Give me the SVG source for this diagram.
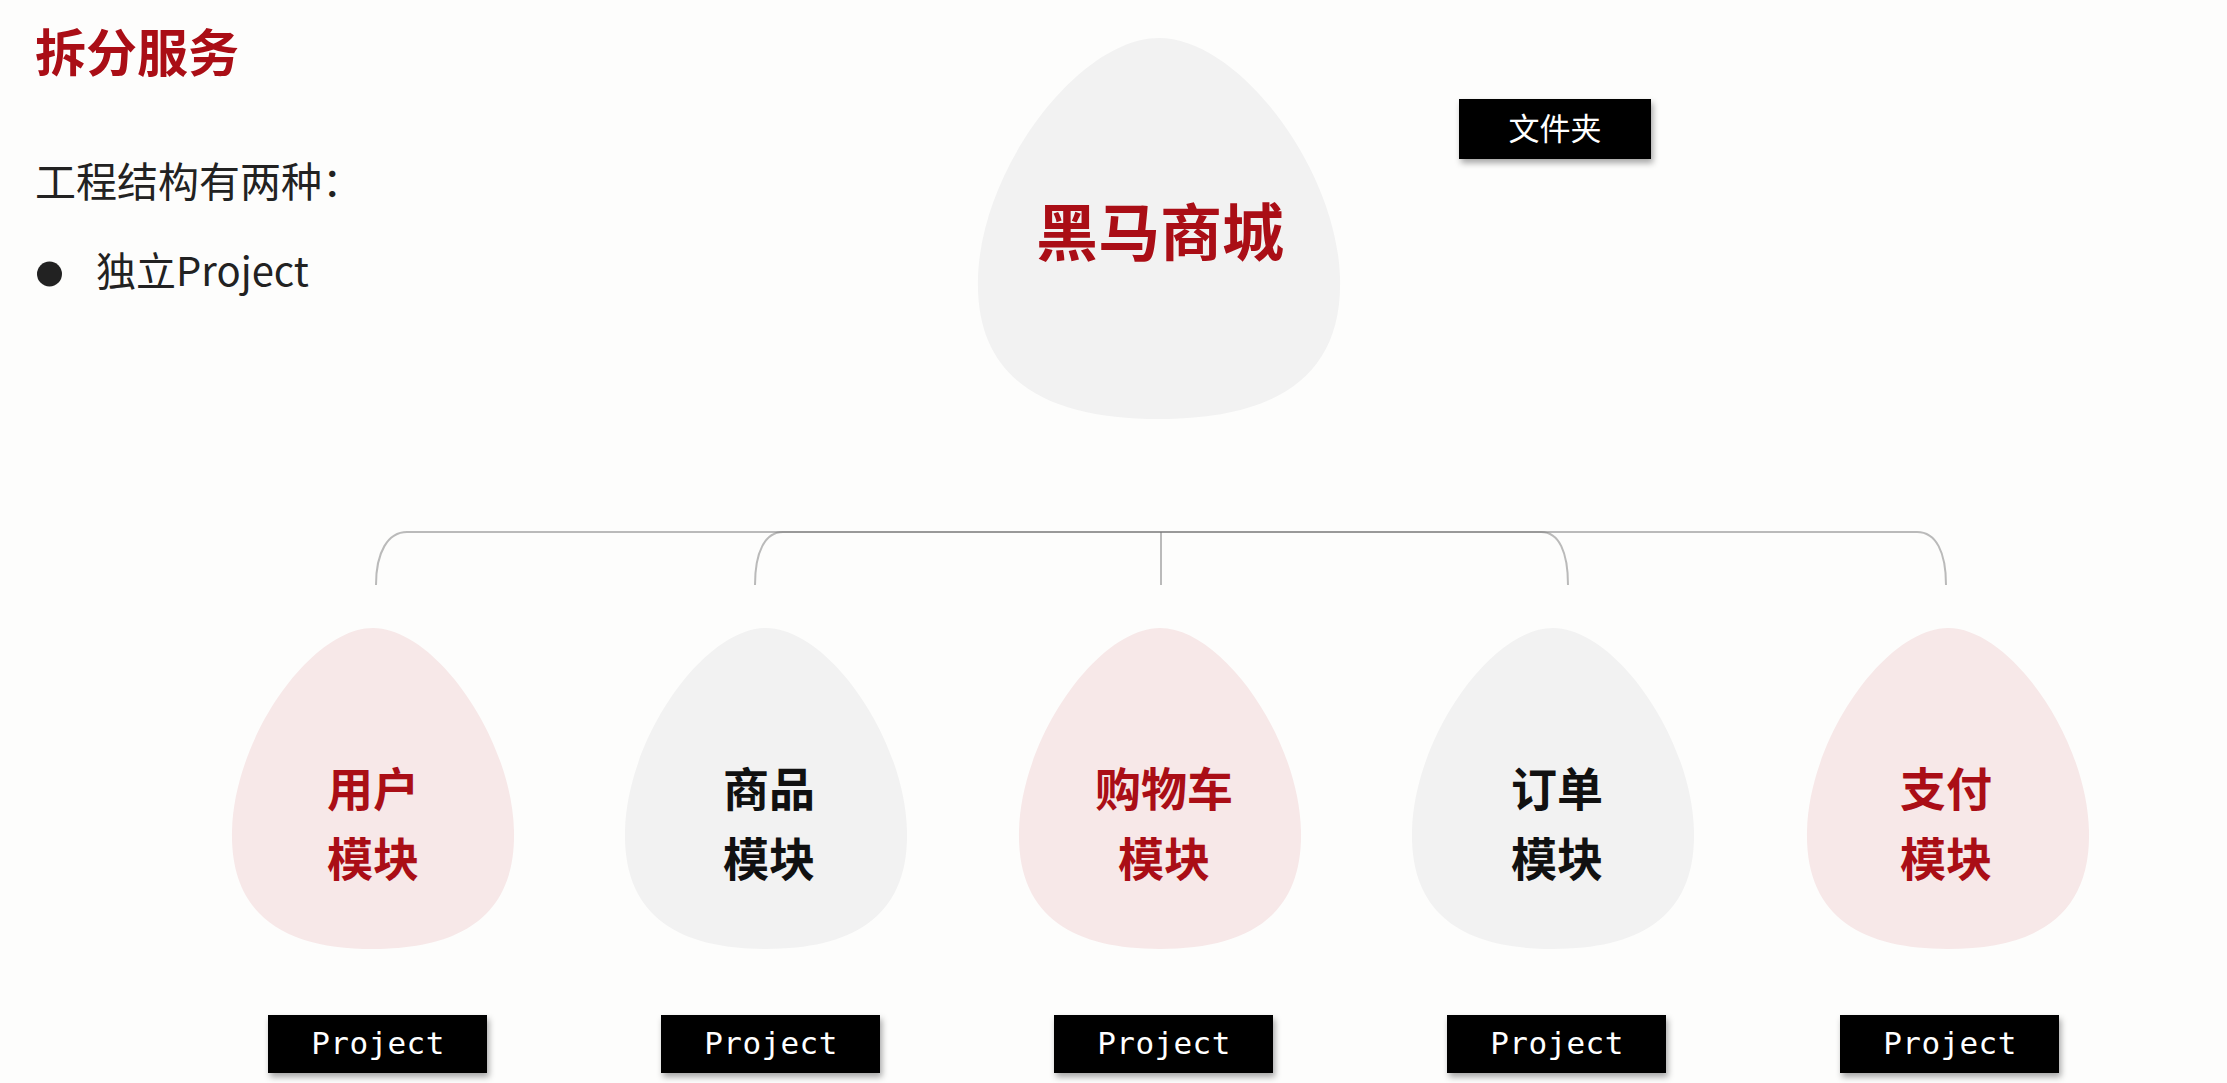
<svg xmlns="http://www.w3.org/2000/svg" xmlns:xlink="http://www.w3.org/1999/xlink" width="2227" height="1083" viewBox="0 0 2227 1083">
<style>
.cjk{font-family:"Noto Sans CJK SC","Noto Sans",sans-serif}
.red{fill:#aa0e16}
.blk{fill:#111}
.lbl{font-family:"Noto Sans CJK SC",sans-serif;font-weight:700;font-size:46px;text-anchor:middle}
.big{font-size:62px}
.grey{fill:#f2f2f2}
.pink{fill:#f7e8e8}
.tag{fill:#000;filter:url(#sh)}
.tagtxt{font-family:"DejaVu Sans Mono","Liberation Mono",monospace;font-size:31px;letter-spacing:0.4px;fill:#fff;text-anchor:middle}
.conn{fill:none;stroke:#777;stroke-opacity:0.5;stroke-width:2}
</style>
<defs>
<path id="egg" d="M0,0 C62,0 139,110 141,203 C143,290 85,321 0,321 C-85,321 -143,290 -141,203 C-139,110 -62,0 0,0 Z"/>
<filter id="sh" x="-10%" y="-20%" width="120%" height="150%">
<feDropShadow dx="2" dy="4" stdDeviation="3" flood-color="#000" flood-opacity="0.35"/>
</filter>
</defs>
<rect width="2227" height="1083" fill="#fdfdfc"/>

<g id="heading">
<text class="cjk red" x="35" y="72" font-size="51" font-weight="700" fill="#a3121a">拆分服务</text>
<text class="cjk" x="35" y="197" font-size="41" fill="#222">工程结构有两种：</text>
<circle cx="49.5" cy="274" r="12.5" fill="#222"/>
<text class="cjk" x="96" y="286" font-size="40" fill="#222">独立Project</text>
</g>

<g id="connectors">
<path class="conn" d="M1161 532 H407 C388 532 376 552 376 585"/>
<path class="conn" d="M1161 532 H783 C765 532 755 552 755 585"/>
<path class="conn" d="M1161 532 V585"/>
<path class="conn" d="M1161 532 H1541 C1559 532 1568 552 1568 585"/>
<path class="conn" d="M1161 532 H1917 C1936 532 1946 552 1946 585"/>
</g>

<g id="root">
<use xlink:href="#egg" class="grey" transform="translate(1159,38) scale(1.284,1.187)"/>
<text class="lbl big red" x="1160" y="256">黑马商城</text>
</g>

<g id="folder-tag">
<rect class="tag" x="1459" y="99" width="192" height="60"/>
<text x="1555" y="140" font-family="Noto Sans CJK SC,sans-serif" font-size="31" fill="#fff" text-anchor="middle">文件夹</text>
</g>

<g id="user">
<use xlink:href="#egg" class="pink" transform="translate(373,628)"/>
<text class="lbl red" x="373" y="806">用户</text>
<text class="lbl red" x="373" y="876">模块</text>
</g>
<g id="product">
<use xlink:href="#egg" class="grey" transform="translate(766,628)"/>
<text class="lbl blk" x="769" y="806">商品</text>
<text class="lbl blk" x="769" y="876">模块</text>
</g>
<g id="cart">
<use xlink:href="#egg" class="pink" transform="translate(1160,628)"/>
<text class="lbl red" x="1164" y="806">购物车</text>
<text class="lbl red" x="1164" y="876">模块</text>
</g>
<g id="order">
<use xlink:href="#egg" class="grey" transform="translate(1553,628)"/>
<text class="lbl blk" x="1557" y="806">订单</text>
<text class="lbl blk" x="1557" y="876">模块</text>
</g>
<g id="pay">
<use xlink:href="#egg" class="pink" transform="translate(1948,628)"/>
<text class="lbl red" x="1946" y="806">支付</text>
<text class="lbl red" x="1946" y="876">模块</text>
</g>

<g id="project-user">
<rect class="tag" x="268" y="1015" width="219" height="58"/>
<text class="tagtxt" x="378" y="1054">Project</text>
</g>
<g id="project-product">
<rect class="tag" x="661" y="1015" width="219" height="58"/>
<text class="tagtxt" x="771" y="1054">Project</text>
</g>
<g id="project-cart">
<rect class="tag" x="1054" y="1015" width="219" height="58"/>
<text class="tagtxt" x="1164" y="1054">Project</text>
</g>
<g id="project-order">
<rect class="tag" x="1447" y="1015" width="219" height="58"/>
<text class="tagtxt" x="1557" y="1054">Project</text>
</g>
<g id="project-pay">
<rect class="tag" x="1840" y="1015" width="219" height="58"/>
<text class="tagtxt" x="1950" y="1054">Project</text>
</g>
</svg>
